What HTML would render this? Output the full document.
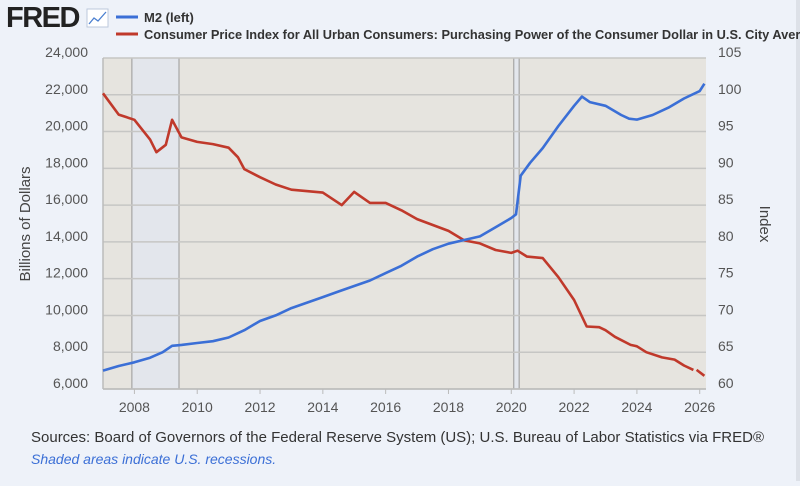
<!DOCTYPE html>
<html><head><meta charset="utf-8"><style>
html,body{margin:0;padding:0;background:#eef2f9;}
body{width:800px;height:481px;overflow:hidden;font-family:"Liberation Sans",sans-serif;}
</style></head><body>
<svg width="800" height="481" xmlns="http://www.w3.org/2000/svg" id="chart">
<rect x="0" y="0" width="800" height="481" fill="#eef2f9"/>
<rect x="796" y="0" width="4" height="481" fill="#dde1e8"/>
<g>
<text x="6" y="27" font-size="29" font-weight="bold" fill="#222" letter-spacing="-1.5">FRED</text>
<rect x="87" y="9" width="21" height="18" fill="#fff" stroke="#bcc8dc"/>
<polyline points="89,24 94,18 98,21 106,12" fill="none" stroke="#4a7fd0" stroke-width="1.3"/>
</g>
<g>
<line x1="116" y1="17" x2="138" y2="17" stroke="#3b6fd6" stroke-width="3"/>
<text x="144" y="22" font-size="13" font-weight="bold" fill="#333">M2 (left)</text>
<line x1="116" y1="34" x2="138" y2="34" stroke="#c0392b" stroke-width="3"/>
<text x="144" y="39" font-size="12.8" font-weight="bold" fill="#333">Consumer Price Index for All Urban Consumers: Purchasing Power of the Consumer Dollar in U.S. City Average</text>
</g>
<rect x="103" y="58" width="603" height="331" fill="#e6e4df"/>
<g id="rec"></g>
<g id="grid"></g>
<g id="axes"></g>
<g id="series"></g>
<text transform="translate(30,224) rotate(-90)" text-anchor="middle" font-size="15" fill="#444">Billions of Dollars</text>
<text transform="translate(760,224) rotate(90)" text-anchor="middle" font-size="15" fill="#444">Index</text>
<text x="31" y="442" font-size="15" fill="#333">Sources: Board of Governors of the Federal Reserve System (US); U.S. Bureau of Labor Statistics via FRED®</text>
<text x="31" y="464" font-size="14" font-style="italic" fill="#3b6fd6">Shaded areas indicate U.S. recessions.</text>
</svg>
<script>
const leftTicks=[6000,8000,10000,12000,14000,16000,18000,20000,22000,24000];
const rightTicks=[60,65,70,75,80,85,90,95,100,105];
const xTicks=[2008,2010,2012,2014,2016,2018,2020,2022,2024,2026];
const recessions=[[2007.92,2009.42],[2020.08,2020.25]];
const m2Dates=[2007.0,2007.5,2008.0,2008.5,2008.9,2009.2,2009.5,2010.0,2010.5,2011.0,2011.5,2012.0,2012.5,2013.0,2013.5,2014.0,2014.5,2015.0,2015.5,2016.0,2016.5,2017.0,2017.5,2018.0,2018.5,2019.0,2019.5,2020.0,2020.15,2020.3,2020.6,2021.0,2021.5,2022.0,2022.25,2022.5,2023.0,2023.5,2023.75,2024.0,2024.5,2025.0,2025.5,2026.0,2026.15];
const m2Values=[7000,7250,7450,7700,8000,8350,8400,8500,8600,8800,9200,9700,10000,10400,10700,11000,11300,11600,11900,12300,12700,13200,13600,13900,14100,14300,14800,15300,15500,17600,18300,19100,20300,21400,21900,21600,21400,20900,20700,20650,20900,21300,21800,22200,22600];
const cpiDates=[2007.0,2007.5,2008.0,2008.5,2008.7,2009.0,2009.2,2009.5,2010.0,2010.5,2011.0,2011.3,2011.5,2012.0,2012.5,2013.0,2014.0,2014.6,2015.0,2015.5,2016.0,2016.5,2017.0,2018.0,2018.5,2019.0,2019.5,2020.0,2020.2,2020.5,2021.0,2021.5,2022.0,2022.4,2022.8,2023.0,2023.3,2023.8,2024.0,2024.3,2024.8,2025.2,2025.5,2025.8];
const cpiValues=[100.2,97.3,96.6,93.9,92.2,93.2,96.6,94.2,93.6,93.3,92.8,91.5,89.9,88.8,87.8,87.1,86.7,85.0,86.8,85.3,85.3,84.3,83.1,81.5,80.2,79.8,78.9,78.5,78.8,78.0,77.8,75.2,72.1,68.5,68.4,68.0,67.1,66.0,65.8,65.0,64.3,64.0,63.2,62.6];
const cpi2Dates=[2025.9,2026.15];
const cpi2Values=[62.6,61.8];
const X0=103,X1=706,Y0=58,Y1=389,T0=2007.0,T1=2026.2;
const xs=t=>X0+(t-T0)/(T1-T0)*(X1-X0);
const yl=v=>Y1-(v-6000)/(24000-6000)*(Y1-Y0);
const yr=v=>Y1-(v-60)/(105-60)*(Y1-Y0);
const NS="http://www.w3.org/2000/svg";
function mk(tag,attrs,parent){const e=document.createElementNS(NS,tag);for(const k in attrs)e.setAttribute(k,attrs[k]);parent.appendChild(e);return e;}
const rec=document.getElementById('rec'),grid=document.getElementById('grid'),axes=document.getElementById('axes'),ser=document.getElementById('series');
recessions.forEach(r=>{
  const e=mk('rect',{x:xs(r[0]),y:Y0,width:xs(r[1])-xs(r[0]),height:Y1-Y0,fill:'#e3e6ec',stroke:'#999','stroke-width':1},rec);
  
  
});
leftTicks.forEach(v=>{
  const y=yl(v);
  const g=mk('line',{x1:X0,x2:X1,y1:y,y2:y,stroke:'#c6c6c4','stroke-width':1.5},grid);
  
  
  const t=mk('text',{x:88,y:y-1,'text-anchor':'end','font-size':14,fill:'#555'},axes);
  t.textContent=v.toLocaleString('en-US');
  
  
});
rightTicks.forEach(v=>{
  const t=mk('text',{x:718,y:yr(v)-1,'font-size':14,fill:'#555'},axes);
  t.textContent=v;
  
  
});
xTicks.forEach(v=>{
  const x=xs(v);
  mk('line',{x1:x,x2:x,y1:Y1,y2:Y1+5,stroke:'#bbb'},axes);
  const t=mk('text',{x:x,y:Y1+23,'text-anchor':'middle','font-size':14,fill:'#555'},axes);
  t.textContent=v;
  
  
});
mk('line',{x1:X0,x2:X0,y1:Y0,y2:Y1,stroke:'#bbb','stroke-width':1.5},axes);
mk('line',{x1:X0,x2:X1,y1:Y1,y2:Y1,stroke:'#bbb','stroke-width':1.5},axes);
function line(d,v,fy,color,name){
  const p=mk('polyline',{points:d.map((t,i)=>xs(t).toFixed(1)+','+fy(v[i]).toFixed(1)).join(' '),fill:'none',stroke:color,'stroke-width':2.6,'stroke-linejoin':'round'},ser);
  
  
}
line(cpiDates,cpiValues,yr,'#c0392b','cpi-line');
line(cpi2Dates,cpi2Values,yr,'#c0392b','cpi-line-recent');
line(m2Dates,m2Values,yl,'#3b6fd6','m2-line');
</script>
</body></html>
